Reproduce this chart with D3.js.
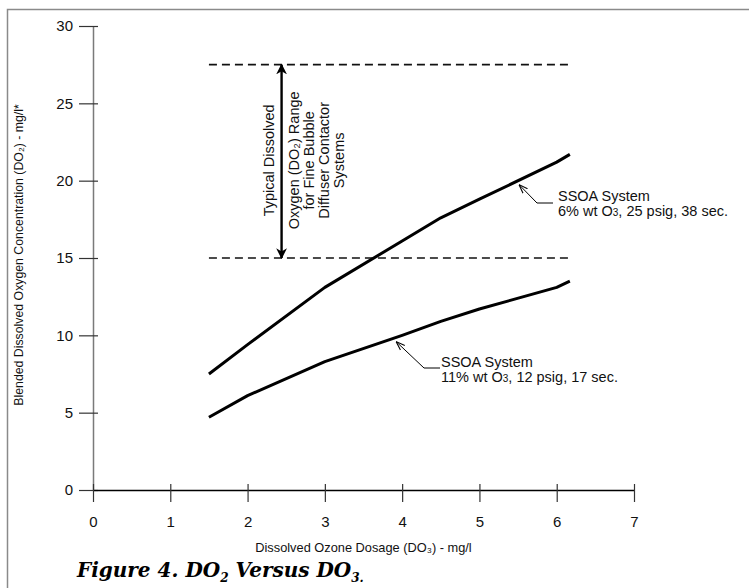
<!DOCTYPE html>
<html>
<head>
<meta charset="utf-8">
<script src="https://cdn.jsdelivr.net/npm/d3@7"></script>
<style>
  body{margin:0;background:#fff;}
  svg{display:block;font-family:"Liberation Sans",Arial,sans-serif;}
</style>
</head>
<body>
<svg id="chart" width="749" height="588"></svg>
<script>
// values
const dose6=[1.5,2,3,4,4.5,5,6,6.17];
const do2at6=[7.5,9.4,13.1,16.1,17.6,18.8,21.2,21.7];
const dose11=[1.5,2,3,4,4.5,5,6,6.17];
const do2at11=[4.7,6.1,8.3,10.0,10.9,11.7,13.1,13.5];
const xTicks=[0,1,2,3,4,5,6,7];
const yTicks=[0,5,10,15,20,25,30];
const rangeBand=[15,27.5];
const rangeSpan=[1.5,6.17];
const rangeArrowX=2.44;
const rangeLines=["Typical Dissolved","Oxygen (DO\u2082) Range","for Fine Bubble","Diffuser Contactor","Systems"];

const svg=d3.select("#chart");
const w=749,h=588,m={top:26,right:115,bottom:98,left:93};

const x=d3.scaleLinear().domain([0,7]).range([m.left,w-m.right+0]);
const y=d3.scaleLinear().domain([0,30]).range([h-m.bottom,m.top]);

// frame (left + top edges only)
svg.append("path")
  .attr("d",`M7.5,${h} V9.5 H${w}`)
  .attr("fill","none").attr("stroke","#8a8a8a").attr("stroke-width",1.5);

// y axis
const gy=svg.append("g")
  .attr("transform",`translate(${m.left},0)`)
  .call(d3.axisLeft(y).tickValues(yTicks).tickFormat(d3.format("d")).tickSize(14).tickPadding(6));
gy.select(".domain").attr("stroke","#7a7a7a").attr("stroke-width",1.5).attr("d",`M0.5,${y(30)}V${y(0)}`);
gy.selectAll(".tick line").attr("x1",5).attr("stroke","#333").attr("stroke-width",1.2);
gy.selectAll(".tick text").attr("font-size",15).attr("fill","#111").attr("font-family","Liberation Sans, Arial, sans-serif");

// x axis
const gx=svg.append("g")
  .attr("transform",`translate(0,${y(0)})`)
  .call(d3.axisBottom(x).tickValues(xTicks).tickFormat(d3.format("d")).tickSize(12).tickPadding(14));
gx.select(".domain").attr("stroke","#000").attr("stroke-width",1.5).attr("d",`M${x(0)},0.5H${x(7)}`);
gx.selectAll(".tick line").attr("y1",-6).attr("stroke","#333").attr("stroke-width",1.2);
gx.selectAll(".tick text").attr("font-size",15).attr("fill","#111").attr("font-family","Liberation Sans, Arial, sans-serif");

// axis titles
svg.append("text")
  .attr("x",x(3.5)).attr("y",552)
  .attr("text-anchor","middle").attr("font-size",12.8).attr("fill","#111")
  .text("Dissolved Ozone Dosage (DO\u2083) - mg/l");
svg.append("text")
  .attr("transform",`translate(23,${(y(0)+y(30))/2-3}) rotate(-90)`)
  .attr("text-anchor","middle").attr("font-size",12.3).attr("fill","#111")
  .text("Blended Dissolved Oxygen Concentration (DO\u2082) - mg/l*");

// typical range dashed lines
svg.selectAll(".band")
  .data(rangeBand)
  .join("line")
  .attr("x1",x(rangeSpan[0])).attr("x2",x(rangeSpan[1]))
  .attr("y1",d=>y(d)).attr("y2",d=>y(d))
  .attr("stroke","#111").attr("stroke-width",1.6).attr("stroke-dasharray","8,5");

// double arrow
const defs=svg.append("defs");
defs.append("marker")
  .attr("id","tip").attr("viewBox","0 0 10 10").attr("refX",9).attr("refY",5)
  .attr("markerWidth",4.5).attr("markerHeight",5).attr("orient","auto-start-reverse")
  .attr("markerUnits","strokeWidth")
  .append("path").attr("d","M0,0 L10,5 L0,10 L3,5 Z").attr("fill","#000");
defs.append("marker")
  .attr("id","thin").attr("viewBox","0 0 10 10").attr("refX",9).attr("refY",5)
  .attr("markerWidth",9).attr("markerHeight",9).attr("orient","auto")
  .attr("markerUnits","strokeWidth")
  .append("path").attr("d","M0,1.5 L10,5 L0,8.5").attr("fill","none").attr("stroke","#000").attr("stroke-width",1.2);

svg.append("line")
  .attr("x1",x(rangeArrowX)).attr("x2",x(rangeArrowX))
  .attr("y1",y(rangeBand[0])).attr("y2",y(rangeBand[1]))
  .attr("stroke","#000").attr("stroke-width",2.4)
  .attr("marker-start","url(#tip)").attr("marker-end","url(#tip)");

const midY=(y(rangeBand[0])+y(rangeBand[1]))/2-1;
const lineX=[274,299,314,329,344];
svg.selectAll(".rangeText")
  .data(rangeLines)
  .join("text")
  .attr("transform",(d,i)=>`translate(${lineX[i]},${midY}) rotate(-90)`)
  .attr("text-anchor","middle").attr("font-size",14.5).attr("fill","#111")
  .text(d=>d);

// curves
const line=d3.line().x(d=>x(d[0])).y(d=>y(d[1]));
const series=[d3.zip(dose6,do2at6),d3.zip(dose11,do2at11)];
svg.selectAll(".curve")
  .data(series)
  .join("path")
  .attr("d",line)
  .attr("fill","none").attr("stroke","#000").attr("stroke-width",3).attr("stroke-linejoin","round");

// callouts
const callouts=[
  {tip:[5.52,19.9],corner:[537,203],end:553,tx:558,ty:201,l1:"SSOA System",l2:["6% wt O","3",", 25 psig, 38 sec."]},
  {tip:[3.93,9.75],corner:[424,368],end:440,tx:441,ty:367,l1:"SSOA System",l2:["11% wt O","3",", 12 psig, 17 sec."]}
];
callouts.forEach(c=>{
  svg.append("path")
    .attr("d",`M${c.end},${c.corner[1]} H${c.corner[0]} L${x(c.tip[0])},${y(c.tip[1])+3}`)
    .attr("fill","none").attr("stroke","#000").attr("stroke-width",1)
    .attr("marker-end","url(#thin)");
  const t=svg.append("text").attr("x",c.tx).attr("y",c.ty).attr("font-size",14.5).attr("fill","#111");
  t.append("tspan").text(c.l1);
  const t2=svg.append("text").attr("x",c.tx).attr("y",c.ty+15).attr("font-size",14.5).attr("fill","#111");
  t2.append("tspan").text(c.l2[0]);
  t2.append("tspan").attr("font-size",10).text(c.l2[1]);
  t2.append("tspan").text(c.l2[2]);
});

// caption
const cap=svg.append("text")
  .attr("x",77).attr("y",577)
  .attr("font-family","DejaVu Serif, serif").attr("font-weight","bold").attr("font-style","italic")
  .attr("font-size",20).attr("fill","#000");
cap.append("tspan").text("Figure 4. DO");
cap.append("tspan").attr("font-size",12).attr("dy",5).text("2");
cap.append("tspan").attr("dy",-5).text(" Versus DO");
cap.append("tspan").attr("font-size",12).attr("dy",5).text("3.");
</script>
</body>
</html>
